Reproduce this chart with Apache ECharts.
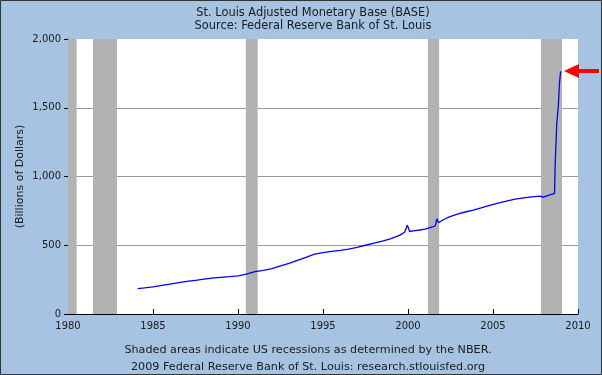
<!DOCTYPE html>
<html>
<head>
<meta charset="utf-8">
<script src="https://cdn.jsdelivr.net/npm/echarts@6/dist/echarts.min.js"></script>
<style>
html,body{margin:0;padding:0;background:#a6c4e2;}
#c{width:602px;height:375px;}
</style>
</head>
<body>
<div id="c"></div>
<script>
// Decimal year of each observation
var years = [1984.1,1984.5,1985.0,1985.6,1986.0,1986.6,1987.0,1987.6,1988.0,1988.6,1989.0,1989.5,
  1990.0,1990.5,1991.0,1991.5,1992.0,1992.5,1993.0,1993.5,1994.0,1994.5,1995.0,1995.5,
  1996.0,1996.5,1997.0,1997.5,1998.0,1998.5,1999.0,1999.5,1999.8,1999.96,2000.1,2000.3,
  2000.7,2001.0,2001.3,2001.6,2001.7,2001.8,2002.0,2002.2,2002.4,2002.86,2003.3,2003.84,
  2004.3,2004.8,2005.3,2005.8,2006.3,2006.8,2007.3,2007.76,2007.96,2008.3,2008.62,2008.66,
  2008.75,2008.84,2008.91,2008.98];
// Adjusted monetary base, billions of dollars
var base = [185,190,198,210,218,230,238,246,253,262,267,272,
  278,290,308,318,330,350,368,390,412,436,446,456,
  462,472,485,500,515,530,548,572,595,645,600,604,
  611,618,628,640,693,664,680,693,705,725,740,756,
  772,790,806,821,835,845,852,857,850,865,877,1100,
  1385,1505,1680,1765];
// NBER recessions [start, end] in decimal years
var recessionStart = [1980.0, 1981.47, 1990.46, 2001.17, 2007.82];
var recessionEnd   = [1980.51, 1982.88, 1991.16, 2001.83, 2009.06];
var xTicks = {min:1980, max:2010, step:5};
var yTicks = {min:0, max:2000, step:500};
var titleLines = ['St. Louis Adjusted Monetary Base (BASE)', 'Source: Federal Reserve Bank of St. Louis'];
var footerLines = ['Shaded areas indicate US recessions as determined by the NBER.', '2009 Federal Reserve Bank of St. Louis: research.stlouisfed.org'];
var yName = '(Billions of Dollars)';

var seriesData = years.map(function(y,i){return [y, base[i]];});
var areas = recessionStart.map(function(s,i){return [{xAxis:s},{xAxis:recessionEnd[i]}];});
var FONT = 'DejaVu Sans';
var TXT = '#1a1a1a';
var chart = echarts.init(document.getElementById('c'), null, {renderer:'canvas'});
chart.setOption({
  animation:false,
  backgroundColor:'#a6c4e2',
  textStyle:{fontFamily:FONT},
  grid:{left:68,right:24,top:39,bottom:61,show:true,backgroundColor:'#ffffff',borderWidth:0},
  xAxis:{
    type:'value', min:xTicks.min, max:xTicks.max, interval:xTicks.step,
    axisLine:{show:true,lineStyle:{color:'#000',width:1}},
    axisTick:{show:true,inside:true,length:5,lineStyle:{color:'#000'}},
    splitLine:{show:false},
    axisLabel:{color:TXT,fontSize:10,fontFamily:FONT,margin:7,formatter:function(v){return String(v);}}
  },
  yAxis:{
    type:'value', min:yTicks.min, max:yTicks.max, interval:yTicks.step,
    name:yName, nameLocation:'middle', nameRotate:90, nameGap:42, nameMoveOverlap:false,
    nameTextStyle:{color:TXT,fontSize:11,fontFamily:FONT},
    axisLine:{show:true,lineStyle:{color:'#000',width:1}},
    axisTick:{show:true,inside:false,length:4,lineStyle:{color:'#000'}},
    splitLine:{show:true,showMaxLine:false,lineStyle:{color:'#9a9a9a',width:1}},
    axisLabel:{color:TXT,fontSize:10,fontFamily:FONT,margin:7,
      formatter:function(v){return v.toLocaleString('en-US');}}
  },
  series:[{
    type:'line', data:seriesData, showSymbol:false, symbol:'none',
    lineStyle:{color:'#0000ff',width:1.3}, itemStyle:{color:'#0000ff'},
    markArea:{silent:true,itemStyle:{color:'#b2b2b2'},data:areas}
  }],
  graphic:[
    {type:'rect',shape:{x:0.5,y:0.5,width:601,height:374},style:{fill:null,stroke:'#333',lineWidth:1},silent:true,z:100},
    {type:'text',x:313,y:13,style:{text:titleLines[0],fill:TXT,font:'11.4px "'+FONT+'"',textAlign:'center',textVerticalAlign:'middle'}},
    {type:'text',x:313,y:26,style:{text:titleLines[1],fill:TXT,font:'11.4px "'+FONT+'"',textAlign:'center',textVerticalAlign:'middle'}},
    {type:'text',x:308,y:350,style:{text:footerLines[0],fill:TXT,font:'11.2px "'+FONT+'"',textAlign:'center',textVerticalAlign:'middle'}},
    {type:'text',x:308,y:367,style:{text:footerLines[1],fill:TXT,font:'11.2px "'+FONT+'"',textAlign:'center',textVerticalAlign:'middle'}},
    {type:'polygon',shape:{points:[[564,71],[579,64],[579,69],[599,69],[599,73],[579,73],[579,78]]},style:{fill:'#ff0000'},z:50}
  ]
});
</script>
</body>
</html>
